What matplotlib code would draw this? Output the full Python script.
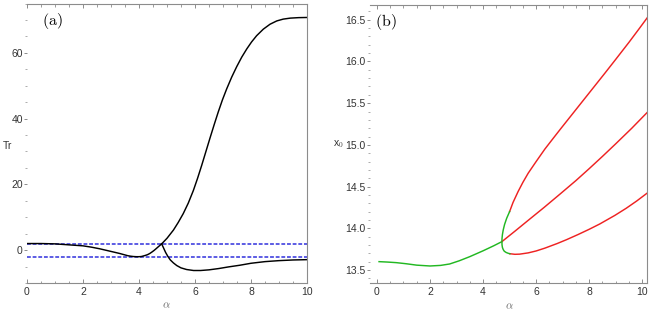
import matplotlib
matplotlib.use("Agg")
import matplotlib.pyplot as plt
from matplotlib.ticker import MultipleLocator

# ---------------- data ----------------
# panel (a): trace Tr vs alpha
a_left_x = [0.0, 0.5, 1.0, 1.5, 2.0, 2.3, 2.6, 2.8, 3.0, 3.15, 3.3, 3.45, 3.6, 3.7, 3.8, 3.9,
            4.0, 4.08, 4.15, 4.23, 4.3, 4.38, 4.45, 4.53, 4.6, 4.7, 4.81]
a_left_y = [2.0, 2.0, 1.9, 1.6, 1.3, 0.9, 0.4, 0.0, -0.4, -0.7, -1.0, -1.35, -1.7, -1.85, -1.95, -2.0,
            -2.0, -1.95, -1.8, -1.6, -1.4, -1.05, -0.65, -0.15, 0.35, 1.1, 1.9]

a_up_x = [4.81, 5.0, 5.23, 5.4, 5.58, 5.76, 5.94, 6.09, 6.24, 6.39, 6.54, 6.69, 6.83, 6.98,
          7.13, 7.31, 7.49, 7.67, 7.85, 8.02, 8.2, 8.44, 8.68, 8.92, 9.15, 9.4, 9.7, 10.0]
a_up_y = [1.9, 3.6, 6.1, 8.4, 11.1, 14.3, 18.1, 21.8, 25.8, 30.0, 34.2, 38.3, 42.0, 45.7,
          49.0, 52.6, 55.8, 58.7, 61.2, 63.3, 65.2, 67.2, 68.7, 69.7, 70.25, 70.55, 70.7, 70.75]

a_low_x = [4.81, 4.88, 4.95, 5.03, 5.12, 5.23, 5.35, 5.5, 5.7, 5.95, 6.2, 6.5, 6.85, 7.2,
           7.6, 8.0, 8.5, 9.0, 9.5, 10.0]
a_low_y = [1.9, 0.6, -0.7, -1.9, -3.0, -3.9, -4.7, -5.4, -5.9, -6.2, -6.2, -6.0, -5.6, -5.1,
           -4.6, -4.0, -3.5, -3.2, -3.0, -2.9]

a_bounds = [2.0, -2.0]          # dashed stability limits
a_xticks = [0, 2, 4, 6, 8, 10]
a_yticks = [0, 20, 40, 60]

# panel (b): x0 vs alpha
g_main_x = [0.08, 0.4, 0.73, 1.1, 1.5, 2.0, 2.4, 2.74, 3.1, 3.5, 4.0, 4.4, 4.71]
g_main_y = [13.60, 13.595, 13.588, 13.575, 13.558, 13.548, 13.555, 13.572, 13.61, 13.66,
            13.73, 13.79, 13.84]

g_fold_x = [5.00, 4.89, 4.81, 4.76, 4.73, 4.715, 4.71, 4.715, 4.73, 4.76, 4.80, 4.87, 4.95, 5.01]
g_fold_y = [14.20, 14.12, 14.045, 13.98, 13.925, 13.88, 13.84, 13.80, 13.77, 13.745, 13.725,
            13.71, 13.70, 13.695]

r_up_x = [5.00, 5.13, 5.32, 5.5, 5.7, 6.0, 6.33, 6.63, 6.93, 7.3, 7.71, 8.1, 8.59, 8.97, 9.5,
          9.9, 10.19]
r_up_y = [14.20, 14.31, 14.44, 14.55, 14.66, 14.80, 14.95, 15.073, 15.195, 15.343, 15.507,
          15.663, 15.859, 16.013, 16.23, 16.40, 16.525]

r_mid_x = [4.71, 5.2, 5.7, 6.3, 6.9, 7.5, 8.0, 8.5, 9.0, 9.6, 10.19]
r_mid_y = [13.84, 13.965, 14.095, 14.25, 14.41, 14.572, 14.715, 14.862, 15.013, 15.198, 15.39]

r_low_x = [5.01, 5.2, 5.38, 5.7, 6.0, 6.33, 6.8, 7.15, 7.58, 8.0, 8.4, 8.97, 9.4, 9.79, 10.19]
r_low_y = [13.695, 13.688, 13.69, 13.705, 13.728, 13.762, 13.818, 13.864, 13.925, 13.988,
           14.052, 14.155, 14.241, 14.327, 14.423]

b_xticks = [0, 2, 4, 6, 8, 10]
b_yticks = [13.5, 14.0, 14.5, 15.0, 15.5, 16.0, 16.5]
b_ytick_labels = ["13.5", "14.0", "14.5", "15.0", "15.5", "16.0", "16.5"]

# ---------------- figure ----------------
plt.rcParams['mathtext.fontset'] = 'cm'
plt.rcParams['font.family'] = ['Liberation Sans', 'DejaVu Sans']

fig = plt.figure(figsize=(6.5, 3.1), dpi=100)
axA = fig.add_axes([27/650, 27/310, 280/650, 279.5/310])
axB = fig.add_axes([369.5/650, 27/310, 277.8/650, 278/310])

SPINE = '#8c8c8c'
TXT = '#333333'

def style(ax):
    for s in ['top', 'right', 'bottom']:
        ax.spines[s].set_color(SPINE)
        ax.spines[s].set_linewidth(0.8)
    ax.spines['left'].set_visible(False)
    ax.tick_params(axis='x', which='both', direction='in', top=True, bottom=True,
                   color=SPINE, labelsize=7.5, labelcolor=TXT, pad=3)
    ax.tick_params(axis='x', which='major', length=3, width=0.7)
    ax.tick_params(axis='x', which='minor', length=1.8, width=0.6)
    ax.tick_params(axis='y', which='both', direction='out', left=True, right=False,
                   color=SPINE, labelsize=7.5, labelcolor=TXT, pad=1)
    ax.tick_params(axis='y', which='major', length=2, width=0.7)
    ax.tick_params(axis='y', which='minor', length=1.2, width=0.5)

# panel (a)
for yb in a_bounds:
    axA.plot([0, 10], [yb, yb], color='#3030dd', lw=1.1, ls=(0, (2.5, 1.2)))
axA.plot(a_left_x, a_left_y, color='black', lw=1.05)
axA.plot(a_up_x, a_up_y, color='black', lw=1.05)
axA.plot(a_low_x, a_low_y, color='black', lw=1.05)
axA.set_xlim(0, 10)
axA.set_ylim(-10, 75)
axA.set_xticks(a_xticks)
axA.set_yticks(a_yticks)
axA.xaxis.set_minor_locator(MultipleLocator(0.5))
axA.yaxis.set_minor_locator(MultipleLocator(5))
style(axA)
axA.text(0.089, 0.937, r'$\mathrm{(a)}$', transform=axA.transAxes, fontsize=11.5,
         ha='center', va='center', color='black')

# panel (b)
axB.plot(g_main_x, g_main_y, color='#22b822', lw=1.05)
axB.plot(r_up_x, r_up_y, color='#ee2222', lw=1.05)
axB.plot(r_mid_x, r_mid_y, color='#ee2222', lw=1.05)
axB.plot(r_low_x, r_low_y, color='#ee2222', lw=1.05)
axB.plot(g_fold_x, g_fold_y, color='#22b822', lw=1.05)
axB.set_xlim(-0.28, 10.19)
axB.set_ylim(13.344, 16.677)
axB.set_xticks(b_xticks)
axB.set_yticks(b_yticks)
axB.set_yticklabels(b_ytick_labels)
axB.xaxis.set_minor_locator(MultipleLocator(0.5))
axB.yaxis.set_minor_locator(MultipleLocator(0.1))
style(axB)
axB.text(0.058, 0.939, r'$\mathrm{(b)}$', transform=axB.transAxes, fontsize=11.5,
         ha='center', va='center', color='black')

# axis labels
fig.text(7.5/650, (310-145.7)/310, 'Tr', fontsize=7.5, color=TXT, ha='center', va='center')
fig.text(339/650, (310-144)/310, r'x$_0$', fontsize=7.5, color=TXT, ha='center', va='center')
fig.text(166.7/650, (310-305)/310, r'$\alpha$', fontsize=8, color='#666666', ha='center', va='center')
fig.text(509.3/650, (310-306)/310, r'$\alpha$', fontsize=8, color='#666666', ha='center', va='center')

fig.savefig('out.png', dpi=100)
